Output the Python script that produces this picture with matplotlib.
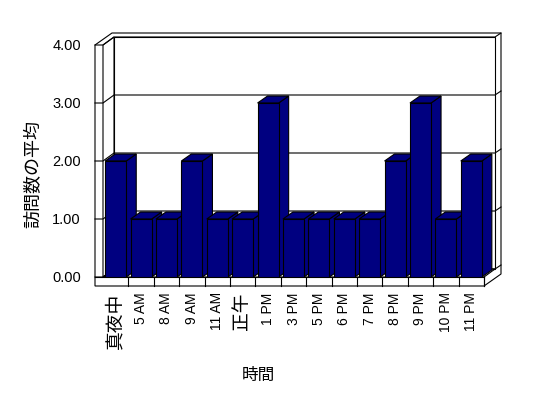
import matplotlib
matplotlib.use("Agg")
import matplotlib.pyplot as plt
from matplotlib.patches import Polygon

plt.rcParams['font.family'] = ['Liberation Sans', 'Noto Sans CJK JP']

categories = ['真夜中', '5 AM', '8 AM', '9 AM', '11 AM', '正午', '1 PM', '3 PM',
              '5 PM', '6 PM', '7 PM', '8 PM', '9 PM', '10 PM', '11 PM']
visits = [2, 1, 1, 2, 1, 1, 3, 1, 1, 1, 1, 2, 3, 1, 2]
yticks = [0, 1, 2, 3, 4]
ytick_labels = ['0.00', '1.00', '2.00', '3.00', '4.00']

W, H = 548, 398
fig = plt.figure(figsize=(W / 100, H / 100), dpi=100)
ax = fig.add_axes([103 / W, 121 / H, 381 / W, 232 / H])
n = len(categories)
x0, x1 = -0.5, n - 0.5
ymax = yticks[-1]
ax.set_xlim(x0, x1)
ax.set_ylim(0, ymax)

# 3d look: offsets in data units (from pixel sizes)
sx = 381 / n
sy = 232 / ymax
dx, dy = 11 / sx, 8 / sy      # depth of the box
bx, by = 6 / sx, 4 / sy       # back wall thickness
wall = 8 / sx                 # left wall thickness
floor = 9 / sy                # floor thickness
bdx, bdy = 10 / sx, 7 / sy    # bar depth
bw = 0.83
lw = 0.8


def poly(pts, fc='white', z=1):
    p = Polygon(pts, closed=True, facecolor=fc, edgecolor='black',
                linewidth=lw, clip_on=False, zorder=z)
    ax.add_patch(p)
    return p


# box frame
poly([(x0 - wall, ymax), (x0 - wall, -floor), (x1, -floor),
      (x1 + dx + bx, -floor + dy + by), (x1 + dx + bx, ymax + dy + by),
      (x0 - wall + dx + bx, ymax + dy + by)])
poly([(x0 + dx, dy), (x1 + dx, dy), (x1 + dx, ymax + dy), (x0 + dx, ymax + dy)])
poly([(x0, 0), (x0 + dx, dy), (x0 + dx, ymax + dy), (x0, ymax)])
poly([(x0, 0), (x1, 0), (x1 + dx, dy), (x0 + dx, dy)])
ax.plot([x0 - wall, x1], [0, 0], color='black', lw=lw, clip_on=False, zorder=1.5)
ax.plot([x1, x1], [0, -floor], color='black', lw=lw, clip_on=False, zorder=1.5)

# gridlines along left wall and back wall
for v in yticks:
    ax.plot([x0 - wall, x0, x0 + dx, x1 + dx, x1 + dx + bx],
            [v, v, v + dy, v + dy, v + dy + by],
            color='black', lw=lw, clip_on=False, zorder=1.5)

# floor ticks
for k in range(1, n + 1):
    ax.plot([x0 + k, x0 + k], [0, -floor], color='black', lw=lw,
            clip_on=False, zorder=1.5)

# bars
xs = list(range(n))
bars = ax.bar(xs, visits, width=bw, color='#000080', edgecolor='black', linewidth=lw)
for i, (rect, v) in enumerate(zip(bars, visits)):
    xl = xs[i] - bw / 2
    xr = xs[i] + bw / 2
    poly([(xr, 0), (xr + bdx, bdy), (xr + bdx, v + bdy), (xr, v)], '#000080', 3 + 3 * i)
    poly([(xl, v), (xr, v), (xr + bdx, v + bdy), (xl + bdx, v + bdy)], '#000080', 4 + 3 * i)
    rect.set_zorder(5 + 3 * i)

for s in ax.spines.values():
    s.set_visible(False)
ax.patch.set_visible(False)

ax.set_yticks(yticks, ytick_labels, fontsize=10.5)
ax.set_xticks(xs, categories, rotation=90, fontsize=10)
for lab in ax.get_xticklabels():
    if not any(c.isascii() for c in lab.get_text()):
        lab.set_fontsize(13.5)
ax.tick_params(axis='y', length=0, pad=16)
ax.tick_params(axis='x', length=0, pad=11)

ax.set_ylabel('訪問数の平均', fontsize=13, va='center')
ax.yaxis.set_label_coords(-0.181, 0.444)
ax.set_xlabel('時間', fontsize=12, va='top')
ax.xaxis.set_label_coords(0.407, -0.392)

fig.savefig('out.png', dpi=100)
